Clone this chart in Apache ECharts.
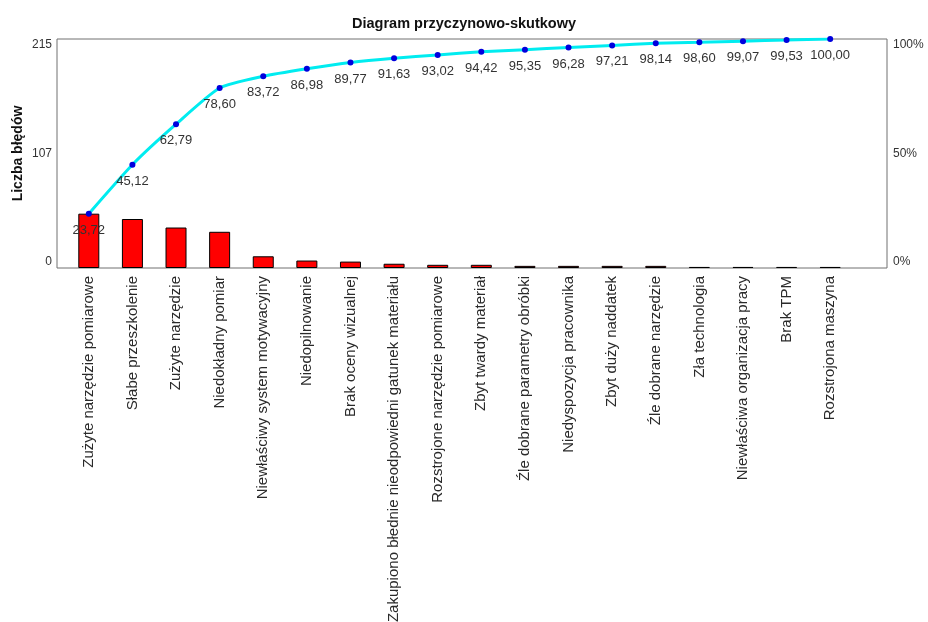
<!DOCTYPE html>
<html>
<head>
<meta charset="utf-8">
<script src="https://cdn.jsdelivr.net/npm/echarts@6/dist/echarts.min.js"></script>
<style>html,body{margin:0;padding:0;background:#fff;}#c{width:928px;height:622px;}</style>
</head>
<body>
<div id="c"></div>
<script>
const categories = [
  'Zużyte narzędzie pomiarowe',
  'Słabe przeszkolenie',
  'Zużyte narzędzie',
  'Niedokładny pomiar',
  'Niewłaściwy system motywacyjny',
  'Niedopilnowanie',
  'Brak oceny wizualnej',
  'Zakupiono błednie nieodpowiedni gatunek materiału',
  'Rozstrojone narzędzie pomiarowe',
  'Zbyt twardy materiał',
  'Źle dobrane parametry obróbki',
  'Niedyspozycja pracownika',
  'Zbyt duży naddatek',
  'Źle dobrane narzędzie',
  'Zła technologia',
  'Niewłaściwa organizacja pracy',
  'Brak TPM',
  'Rozstrojona maszyna'
];
const errorCounts = [51, 46, 38, 34, 11, 7, 6, 4, 3, 3, 2, 2, 2, 2, 1, 1, 1, 1];
const cumulativePct = [23.72, 45.12, 62.79, 78.60, 83.72, 86.98, 89.77, 91.63, 93.02, 94.42, 95.35, 96.28, 97.21, 98.14, 98.60, 99.07, 99.53, 100.00];
const leftTicks = [0, 107, 215];
const rightTicks = ['0%', '50%', '100%'];

const chart = echarts.init(document.getElementById('c'), null, {renderer: 'canvas'});
const FONT = 'Liberation Sans, Arial, sans-serif';
chart.setOption({
  backgroundColor: '#ffffff',
  animation: false,
  title: {
    text: 'Diagram przyczynowo-skutkowy',
    left: 'center',
    top: 11,
    textStyle: {fontFamily: FONT, fontSize: 14.5, fontWeight: 'bold', color: '#111'}
  },
  grid: [
    {left: 67, right: 76, top: 39, bottom: 354, show: false, containLabel: false, outerBoundsMode: 'none'},
    {left: 57, right: 41, top: 39, bottom: 354, show: true, borderColor: '#707070', borderWidth: 1, backgroundColor: 'transparent', z: 0, containLabel: false, outerBoundsMode: 'none'}
  ],
  xAxis: [
    {
      type: 'category', gridIndex: 0, data: categories,
      axisLine: {show: false}, axisTick: {show: false},
      axisLabel: {rotate: 90, margin: 8, interval: 0, fontFamily: FONT, fontSize: 15, color: '#2a2a2a'}
    },
    {type: 'value', gridIndex: 1, show: false}
  ],
  yAxis: [
    {
      type: 'value', gridIndex: 0, position: 'left', min: 0, max: 215, interval: 107.5,
      name: 'Liczba błędów', nameLocation: 'middle', nameGap: 42, nameRotate: 90, nameMoveOverlap: false,
      nameTextStyle: {fontFamily: FONT, fontSize: 14, fontWeight: 'bold', color: '#111'},
      axisLine: {show: false}, axisTick: {show: false}, splitLine: {show: false},
      axisLabel: {
        margin: 15, fontFamily: FONT, fontSize: 12, color: '#333',
        verticalAlignMinLabel: 'bottom', verticalAlignMaxLabel: 'top',
        formatter: function (v) { const i = Math.round(v / 107.5); return String(leftTicks[i]); }
      }
    },
    {
      type: 'value', gridIndex: 0, position: 'right', min: 0, max: 100, interval: 50,
      axisLine: {show: false}, axisTick: {show: false}, splitLine: {show: false},
      axisLabel: {
        margin: 41, fontFamily: FONT, fontSize: 12, color: '#333',
        verticalAlignMinLabel: 'bottom', verticalAlignMaxLabel: 'top',
        formatter: function (v) { return rightTicks[Math.round(v / 50)]; }
      }
    },
    {type: 'value', gridIndex: 1, show: false}
  ],
  series: [
    {
      type: 'bar', xAxisIndex: 0, yAxisIndex: 0, data: errorCounts, barWidth: 21,
      itemStyle: {color: '#ff0000', borderColor: '#000', borderWidth: 1}, z: 2
    },
    {
      type: 'line', xAxisIndex: 0, yAxisIndex: 1, data: cumulativePct,
      smooth: 0.2, symbol: 'circle', symbolSize: 6,
      lineStyle: {color: '#00ecf0', width: 3},
      itemStyle: {color: '#0000dd'},
      label: {
        show: true, position: 'bottom', distance: 7, fontFamily: FONT, fontSize: 13, color: '#333',
        formatter: function (p) { return p.value.toFixed(2).replace('.', ','); }
      },
      z: 3
    }
  ]
});
</script>
</body>
</html>
